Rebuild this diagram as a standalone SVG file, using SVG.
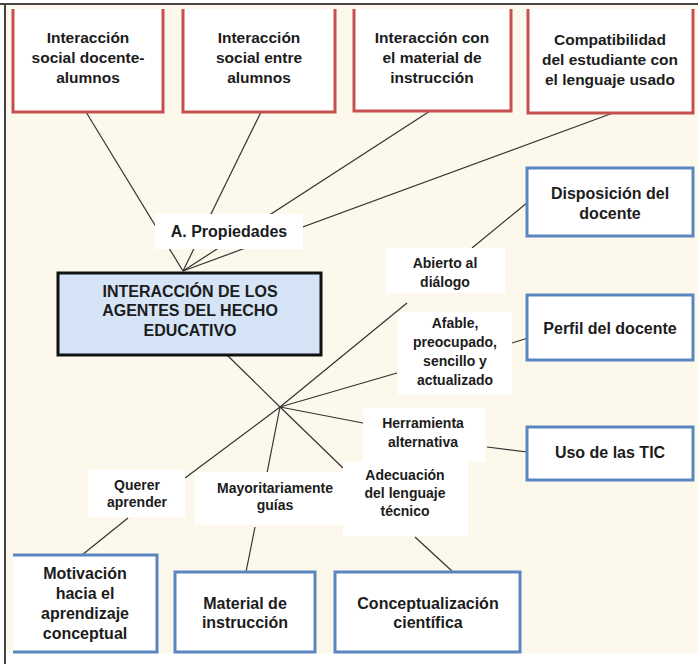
<svg xmlns="http://www.w3.org/2000/svg" width="698" height="666" viewBox="0 0 698 666">
<style>
  text { font-family: "Liberation Sans", Arial, sans-serif; font-weight: bold; fill: #1c1c1c; text-anchor: middle; }
  .red { font-size: 15.5px; }
  .blue { font-size: 16px; }
  .lbl { font-size: 14px; }
  .main { font-size: 16px; }
  .rbox { fill: #ffffff; }
  .rborder { fill: none; stroke: #C5504E; stroke-width: 3; }
  .bbox { fill: #ffffff; stroke: #5A86C0; stroke-width: 3; }
  .lab { fill: #ffffff; }
  .conn line { stroke: #333333; stroke-width: 1.2; }
</style>
<rect x="0" y="0" width="698" height="666" fill="#ffffff"/>
<rect x="6" y="5" width="692" height="648" fill="#FCF8EC"/>
<line x1="0" y1="4" x2="698" y2="4" stroke="#444444" stroke-width="2"/>
<line x1="5" y1="4" x2="5" y2="664" stroke="#444444" stroke-width="2"/>

<g id="connectors" class="conn">
  <line x1="86" y1="112" x2="183" y2="271"/>
  <line x1="261" y1="112" x2="183" y2="271"/>
  <line x1="430" y1="111" x2="183" y2="271"/>
  <line x1="613" y1="113" x2="183" y2="271"/>
  <line x1="227" y1="355" x2="280" y2="407"/>
  <line x1="280" y1="407" x2="407" y2="303"/>
  <line x1="472" y1="248" x2="528" y2="202"/>
  <line x1="280" y1="407" x2="397" y2="373"/>
  <line x1="512" y1="343" x2="528" y2="338"/>
  <line x1="280" y1="407" x2="363" y2="423"/>
  <line x1="487" y1="447" x2="527" y2="452"/>
  <line x1="280" y1="407" x2="343" y2="468"/>
  <line x1="415" y1="537" x2="453" y2="572"/>
  <line x1="280" y1="407" x2="267" y2="473"/>
  <line x1="255" y1="527" x2="246" y2="572"/>
  <line x1="280" y1="407" x2="185" y2="478"/>
  <line x1="128" y1="518" x2="82" y2="555"/>
</g>

<g id="n-social-docente">
  <rect class="rbox" x="13" y="9" width="150" height="103"/>
  <path class="rborder" d="M13,9 V112 H163 V9"/>
  <text class="red" x="88" y="43">Interacción</text>
  <text class="red" x="88" y="63">social docente-</text>
  <text class="red" x="88" y="83">alumnos</text>
</g>
<g id="n-social-alumnos">
  <rect class="rbox" x="183" y="9" width="152" height="103"/>
  <path class="rborder" d="M183,9 V112 H335 V9"/>
  <text class="red" x="259" y="43">Interacción</text>
  <text class="red" x="259" y="63">social entre</text>
  <text class="red" x="259" y="83">alumnos</text>
</g>
<g id="n-material-int">
  <rect class="rbox" x="354" y="9" width="157" height="102"/>
  <path class="rborder" d="M354,9 V111 H511 V9"/>
  <text class="red" x="432" y="43">Interacción con</text>
  <text class="red" x="432" y="63">el material de</text>
  <text class="red" x="432" y="83">instrucción</text>
</g>
<g id="n-compatibilidad">
  <rect class="rbox" x="528" y="9" width="165" height="104"/>
  <path class="rborder" d="M528,9 V113 H693 V9"/>
  <text class="red" x="610" y="45">Compatibilidad</text>
  <text class="red" x="610" y="65">del estudiante con</text>
  <text class="red" x="610" y="85">el lenguaje usado</text>
</g>

<g id="n-central">
  <rect x="58" y="273" width="263" height="82" fill="#D5E4F6" stroke="#111111" stroke-width="3"/>
  <text class="main" x="190" y="297">INTERACCIÓN DE LOS</text>
  <text class="main" x="190" y="316">AGENTES DEL HECHO</text>
  <text class="main" x="190" y="336">EDUCATIVO</text>
</g>

<g id="l-propiedades">
  <rect class="lab" x="155" y="214" width="148" height="35"/>
  <text class="main" x="229" y="237">A. Propiedades</text>
</g>
<g id="l-abierto">
  <rect class="lab" x="386" y="248" width="119" height="45"/>
  <text class="lbl" x="445" y="268">Abierto al</text>
  <text class="lbl" x="445" y="287">diálogo</text>
</g>
<g id="l-afable">
  <rect class="lab" x="398" y="312" width="114" height="83"/>
  <text class="lbl" x="455" y="328">Afable,</text>
  <text class="lbl" x="455" y="347">preocupado,</text>
  <text class="lbl" x="455" y="366">sencillo y</text>
  <text class="lbl" x="455" y="385">actualizado</text>
</g>
<g id="l-herramienta">
  <rect class="lab" x="363" y="408" width="122" height="54"/>
  <text class="lbl" x="423" y="428">Herramienta</text>
  <text class="lbl" x="423" y="447">alternativa</text>
</g>
<g id="l-adecuacion">
  <rect class="lab" x="343" y="462" width="125" height="74"/>
  <text class="lbl" x="405" y="480">Adecuación</text>
  <text class="lbl" x="405" y="498">del lenguaje</text>
  <text class="lbl" x="405" y="516">técnico</text>
</g>
<g id="l-mayoritariamente">
  <rect class="lab" x="195" y="472" width="148" height="53"/>
  <text class="lbl" x="275" y="493">Mayoritariamente</text>
  <text class="lbl" x="275" y="510">guías</text>
</g>
<g id="l-querer">
  <rect class="lab" x="88" y="470" width="97" height="47"/>
  <text class="lbl" x="137" y="490">Querer</text>
  <text class="lbl" x="137" y="507">aprender</text>
</g>

<g id="n-disposicion">
  <rect class="bbox" x="527" y="168" width="166" height="68"/>
  <text class="blue" x="610" y="199">Disposición del</text>
  <text class="blue" x="610" y="219">docente</text>
</g>
<g id="n-perfil">
  <rect class="bbox" x="527" y="295" width="166" height="65"/>
  <text class="blue" x="610" y="334">Perfil del docente</text>
</g>
<g id="n-tic">
  <rect class="bbox" x="527" y="427" width="166" height="53"/>
  <text class="blue" x="610" y="458">Uso de las TIC</text>
</g>
<g id="n-conceptualizacion">
  <rect class="bbox" x="335" y="572" width="185" height="80"/>
  <text class="blue" x="428" y="609">Conceptualización</text>
  <text class="blue" x="428" y="628">científica</text>
</g>
<g id="n-material">
  <rect class="bbox" x="175" y="572" width="140" height="80"/>
  <text class="blue" x="245" y="609">Material de</text>
  <text class="blue" x="245" y="628">instrucción</text>
</g>
<g id="n-motivacion">
  <rect class="rbox" x="13" y="555" width="144" height="97"/>
  <path d="M13,555 H157 V652 H13" fill="none" stroke="#5A86C0" stroke-width="3"/>
  <text class="blue" x="85" y="579">Motivación</text>
  <text class="blue" x="85" y="599">hacia el</text>
  <text class="blue" x="85" y="619">aprendizaje</text>
  <text class="blue" x="85" y="639">conceptual</text>
</g>
</svg>
